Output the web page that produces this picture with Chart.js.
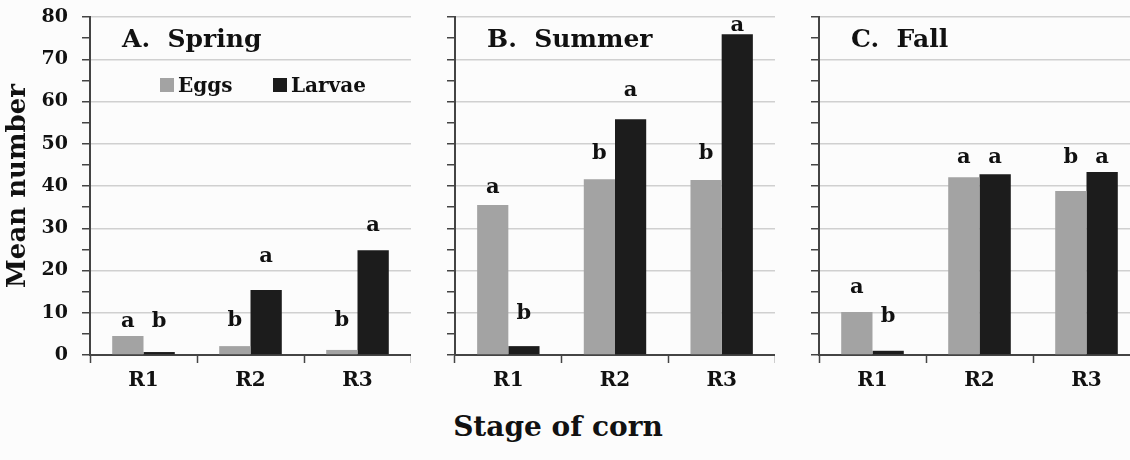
<!DOCTYPE html>
<html>
<head>
<meta charset="utf-8">
<script src="https://cdn.jsdelivr.net/npm/chart.js@4.4.0/dist/chart.umd.min.js"></script>
<style>
  html, body { margin: 0; padding: 0; background: #fcfcfc; overflow: hidden; width: 1130px; height: 460px; }
  canvas { position: absolute; top: 0; }
  #pA { left: 0; }
  #pB { left: 413px; }
  #pC { left: 777px; }
  #xTitle { position: absolute; left: 0; width: 1116px; top: 410px; text-align: center;
            font: bold 28px 'DejaVu Serif'; color: #111; }
</style>
</head>
<body>
<canvas id="pA" width="411" height="400"></canvas>
<canvas id="pB" width="362" height="400"></canvas>
<canvas id="pC" width="363" height="400"></canvas>
<div id="xTitle">Stage of corn</div>

<script>
// ── Data ──────────────────────────────────────────────────────────────
const stages = ['R1', 'R2', 'R3'];
const seriesNames = ['Eggs', 'Larvae'];

const springEggs   = [4.5, 2.1, 1.2];
const springLarvae = [0.7, 15.4, 24.8];
const summerEggs   = [35.5, 41.6, 41.4];
const summerLarvae = [2.1, 55.8, 75.9];
const fallEggs     = [10.2, 42.1, 38.8];
const fallLarvae   = [1.0, 42.8, 43.3];

// significance letters and the level (in y units) where each one sits
const springEggLetters    = ['a', 'b', 'b'];
const springLarvaeLetters = ['b', 'a', 'a'];
const springEggLevels     = [8.0, 8.2, 8.2];
const springLarvaeLevels  = [8.0, 23.2, 30.7];
const summerEggLetters    = ['a', 'b', 'b'];
const summerLarvaeLetters = ['b', 'a', 'a'];
const summerEggLevels     = [39.7, 47.7, 47.7];
const summerLarvaeLevels  = [9.9, 62.6, 78.0];
const fallEggLetters      = ['a', 'a', 'b'];
const fallLarvaeLetters   = ['b', 'a', 'a'];
const fallEggLevels       = [16.0, 46.8, 46.8];
const fallLarvaeLevels    = [9.0, 46.8, 46.8];

const yMin = 0, yMax = 80, yMajor = 10, yMinor = 5;

// ── Styles ────────────────────────────────────────────────────────────
const FONT = "'DejaVu Serif'";
const TEXT = '#111';
const EGG_COLOR = '#a3a3a3';
const LARVAE_COLOR = '#1c1c1c';
const AXIS_COLOR = '#444';
const GRID_COLOR = '#d0d0d0';
const PLOT_TOP = 17, PLOT_BOTTOM = 355;

function marksPlugin(title, letters, levels, withLegend) {
  return {
    id: 'marks',
    afterDatasetsDraw(chart) {
      const ctx = chart.ctx, y = chart.scales.y, area = chart.chartArea;
      ctx.save();
      ctx.fillStyle = TEXT;

      // letters above bars
      ctx.font = 'bold 21px ' + FONT;
      ctx.textAlign = 'center';
      ctx.textBaseline = 'middle';
      letters.forEach((row, i) => {
        chart.getDatasetMeta(i).data.forEach((bar, j) => {
          ctx.fillText(row[j], bar.x, y.getPixelForValue(levels[i][j]));
        });
      });

      // panel title
      ctx.font = 'bold 25px ' + FONT;
      ctx.textAlign = 'left';
      ctx.textBaseline = 'alphabetic';
      ctx.fillText(title, area.left + 32, 47);

      // legend (panel A only)
      if (withLegend) {
        ctx.font = 'bold 20px ' + FONT;
        let x = area.left + 70;
        chart.data.datasets.forEach(ds => {
          ctx.fillStyle = ds.backgroundColor;
          ctx.fillRect(x, 78, 14, 14);
          ctx.fillStyle = TEXT;
          ctx.fillText(ds.label, x + 18, 92);
          x += 113;
        });
      }
      ctx.restore();
    }
  };
}

function makePanel(id, title, eggs, larvae, letters, levels, axisWidth, first) {
  const canvas = document.getElementById(id);
  return new Chart(canvas.getContext('2d'), {
    type: 'bar',
    data: {
      labels: stages,
      datasets: [
        { label: seriesNames[0], data: eggs, backgroundColor: EGG_COLOR },
        { label: seriesNames[1], data: larvae, backgroundColor: LARVAE_COLOR },
      ],
    },
    options: {
      responsive: false,
      animation: false,
      layout: { padding: { top: PLOT_TOP, right: 0, left: 0, bottom: 0 } },
      datasets: { bar: { categoryPercentage: 0.585, barPercentage: 1.0, borderWidth: 0 } },
      plugins: { legend: { display: false }, tooltip: { enabled: false } },
      scales: {
        x: {
          ticks: { color: TEXT, font: { family: FONT, size: 20, weight: 'bold' }, padding: 6, maxRotation: 0 },
          grid: { offset: true, drawOnChartArea: false, tickLength: 8, tickColor: AXIS_COLOR, tickWidth: 1.5 },
          border: { color: AXIS_COLOR, width: 2 },
          afterFit: s => { s.height = canvas.height - PLOT_BOTTOM; },
        },
        y: {
          min: yMin, max: yMax,
          ticks: {
            stepSize: yMinor, autoSkip: false, display: first, padding: 14, color: TEXT,
            font: { family: FONT, size: 19, weight: 'bold' },
            callback: v => (v % yMajor === 0 ? v : ''),
          },
          grid: {
            color: c => (c.tick && c.tick.value % yMajor === 0 ? GRID_COLOR : 'rgba(0,0,0,0)'),
            lineWidth: 1.5, tickLength: 8, tickColor: AXIS_COLOR, tickWidth: 1.5,
          },
          border: { color: AXIS_COLOR, width: 2 },
          title: {
            display: first, text: 'Mean number', color: TEXT,
            font: { family: FONT, size: 26, weight: 'bold' }, padding: { top: 3, bottom: 0 },
          },
          afterFit: s => {
            s.width = axisWidth;
            s.paddingTop = 0;
            s.paddingBottom = 0;
          },
        },
      },
    },
    plugins: [marksPlugin(title, letters, levels, first)],
  });
}

makePanel('pA', 'A.  Spring', springEggs, springLarvae,
  [springEggLetters, springLarvaeLetters], [springEggLevels, springLarvaeLevels], 90, true);
makePanel('pB', 'B.  Summer', summerEggs, summerLarvae,
  [summerEggLetters, summerLarvaeLetters], [summerEggLevels, summerLarvaeLevels], 42, false);
makePanel('pC', 'C.  Fall', fallEggs, fallLarvae,
  [fallEggLetters, fallLarvaeLetters], [fallEggLevels, fallLarvaeLevels], 42, false);
</script>
</body>
</html>
